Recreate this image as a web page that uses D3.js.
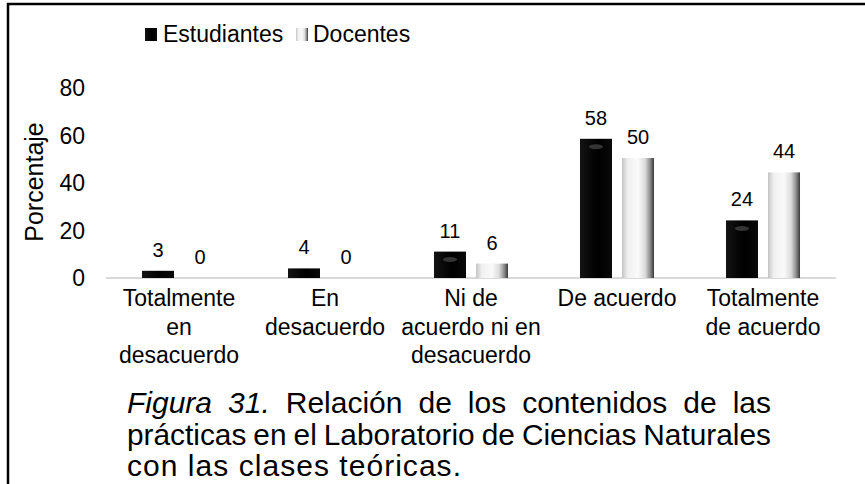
<!DOCTYPE html>
<html><head><meta charset="utf-8">
<script src="https://cdn.jsdelivr.net/npm/d3@7"></script>
<style>
html,body{margin:0;padding:0;background:#fff;}
svg{display:block;font-family:"Liberation Sans",Arial,sans-serif;}
</style></head>
<body>
<svg id="c" width="865" height="484"></svg>
<script>
const categories = ["Totalmente en desacuerdo","En desacuerdo","Ni de acuerdo ni en desacuerdo","De acuerdo","Totalmente de acuerdo"];
const seriesNames = ["Estudiantes","Docentes"];
const estudiantes = [3,4,11,58,24];
const docentes = [0,0,6,50,44];
const yTicks = [0,20,40,60,80];
const yLabel = "Porcentaje";
const captionLines = [
  "Figura 31. Relación de los contenidos de las",
  "prácticas en el Laboratorio de Ciencias Naturales",
  "con las clases teóricas."
];
const italicWords = ["Figura","31."];

const svg = d3.select("#c");
const defs = svg.append("defs");

// frame
svg.append("rect").attr("x",8).attr("y",4).attr("width",900).attr("height",520)
  .attr("fill","none").attr("stroke","#000").attr("stroke-width",2.5);

// gradients
const gD = defs.append("linearGradient").attr("id","gDoc").attr("x1","0").attr("x2","1").attr("y1","0").attr("y2","0");
[[0,"#c4c4c4"],[0.18,"#f0f0f0"],[0.5,"#fafafa"],[0.72,"#dcdcdc"],[0.88,"#8c8c8c"],[1,"#383838"]]
  .forEach(([o,c])=>gD.append("stop").attr("offset",o).attr("stop-color",c));
const gS = defs.append("linearGradient").attr("id","gEst").attr("x1","0").attr("x2","1").attr("y1","0").attr("y2","0");
[[0,"#141414"],[0.4,"#050505"],[0.6,"#000"],[1,"#0a0a0a"]]
  .forEach(([o,c])=>gS.append("stop").attr("offset",o).attr("stop-color",c));

const x0 = d3.scaleBand().domain(categories).range([106,836]).paddingInner(0.493).paddingOuter(0.2465);
const x1 = d3.scaleBand().domain(seriesNames).range([0,x0.bandwidth()]).paddingInner(0.238);
const y = d3.scaleLinear().domain([0,80]).range([278,86]);

const data = categories.map((c,i)=>({cat:c, vals:[{s:"Estudiantes",v:estudiantes[i]},{s:"Docentes",v:docentes[i]}]}));
const fills = {Estudiantes:"url(#gEst)", Docentes:"url(#gDoc)"};

// y tick labels
svg.append("g").selectAll("text").data(yTicks).join("text")
  .attr("x",85).attr("y",d=>278-(278-88)*d/80).attr("dy","0.36em").attr("text-anchor","end")
  .attr("font-size",23).attr("fill","#000").text(d=>d);

// y label
svg.append("text").attr("transform","translate(43,182) rotate(-90)")
  .attr("text-anchor","middle").attr("font-size",25).text(yLabel);

// baseline
svg.append("line").attr("x1",106).attr("x2",836).attr("y1",y(0)).attr("y2",y(0))
  .attr("stroke","#d9d9d9").attr("stroke-width",2);

// bars
const groups = svg.append("g").selectAll("g").data(data).join("g")
  .attr("transform",d=>`translate(${x0(d.cat)},0)`);
groups.selectAll("rect").data(d=>d.vals).join("rect")
  .attr("x",d=>x1(d.s)).attr("width",x1.bandwidth())
  .attr("y",d=>y(d.v)).attr("height",d=>y(0)-y(d.v))
  .attr("fill",d=>fills[d.s]);
// subtle highlight on black bars
groups.selectAll("ellipse").data(d=>d.vals.filter(v=>v.s==="Estudiantes" && v.v>8)).join("ellipse")
  .attr("cx",d=>x1(d.s)+x1.bandwidth()/2).attr("cy",d=>y(d.v)+8)
  .attr("rx",7).attr("ry",2.5).attr("fill","#555").attr("opacity",0.6);
groups.selectAll("text").data(d=>d.vals).join("text")
  .attr("x",d=>x1(d.s)+x1.bandwidth()/2).attr("y",d=>y(d.v)-14)
  .attr("text-anchor","middle").attr("font-size",20).text(d=>d.v);

// category labels with wrapping
const catG = svg.append("g");
categories.forEach(c=>{
  const words = c.split(" ");
  const lines = []; let cur = [];
  const t = catG.append("text").attr("font-size",23).attr("text-anchor","middle");
  const measure = s=>{ t.text(s); return t.node().getComputedTextLength(); };
  words.forEach(w=>{
    const test = cur.concat([w]).join(" ");
    if (cur.length && measure(test) > 140){ lines.push(cur.join(" ")); cur=[w]; } else cur.push(w);
  });
  lines.push(cur.join(" "));
  t.text(null);
  const cx = x0(c)+x0.bandwidth()/2;
  lines.forEach((ln,i)=>t.append("tspan").attr("x",cx).attr("y",306+i*28.5).text(ln));
});

// legend
const legend = [{n:"Estudiantes",x:145,tx:163,f:"url(#gEst)"},{n:"Docentes",x:296,tx:313,f:"url(#gDoc)"}];
legend.forEach(l=>{
  svg.append("rect").attr("x",l.x).attr("y",28).attr("width",12).attr("height",13).attr("fill",l.f);
  svg.append("text").attr("x",l.tx).attr("y",42).attr("font-size",23).text(l.n);
});

// caption, justified
const capLeft = 127, capRight = 771, capFont = 30, lastLineWidth = 334;
captionLines.forEach((line,li)=>{
  const yy = 413 + li*31.5;
  const justify = li < captionLines.length-1;
  if (!justify){
    svg.append("text").attr("x",capLeft).attr("y",yy).attr("font-size",capFont)
      .attr("textLength",lastLineWidth).attr("lengthAdjust","spacing").text(line);
    return;
  }
  const words = line.split(" ");
  const g = svg.append("g");
  const nodes = words.map(w=>g.append("text").attr("font-size",capFont)
     .attr("font-style",italicWords.includes(w)?"italic":"normal").attr("y",yy).text(w));
  let widths = nodes.map(n=>n.node().getComputedTextLength());
  const target = capRight-capLeft;
  const minGap = 7;
  let sum = d3.sum(widths);
  if (sum + minGap*(words.length-1) > target){
    const f = (target - minGap*(words.length-1))/sum;
    widths = widths.map(w=>w*f);
    nodes.forEach((n,i)=>n.attr("textLength",widths[i]).attr("lengthAdjust","spacingAndGlyphs"));
    sum = d3.sum(widths);
  }
  const space = (target-sum)/(words.length-1);
  let xx = capLeft;
  nodes.forEach((n,i)=>{ n.attr("x",xx); xx += widths[i]+space; });
});
</script>
</body></html>
